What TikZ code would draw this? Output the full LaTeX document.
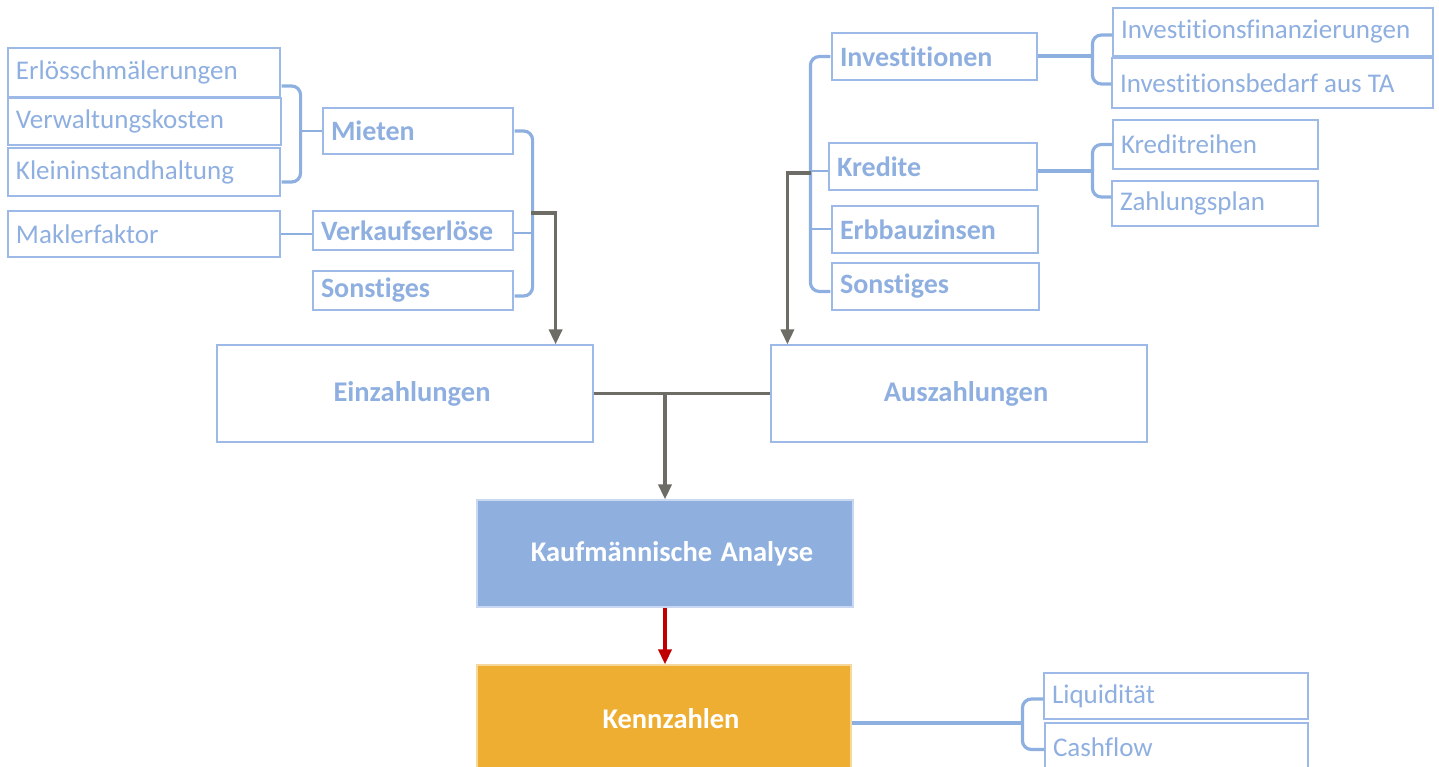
\documentclass[tikz,border=0pt]{standalone}
\usepackage{fontspec}
\setmainfont{Carlito}[Ligatures=NoCommon]
\usetikzlibrary{arrows.meta,calc}
\definecolor{txtc}{HTML}{8EAFE0}
\definecolor{boxc}{HTML}{9CB9E7}
\definecolor{brkc}{HTML}{8DB0E1}
\definecolor{grayc}{HTML}{6D6C65}
\definecolor{kafill}{HTML}{8FB0DF}
\definecolor{kaborder}{HTML}{C9D8F0}
\definecolor{kzfill}{HTML}{EDAE31}
\definecolor{kzborder}{HTML}{F6D79C}
\definecolor{redc}{HTML}{C00000}
\newcommand\bxnode[7]{%
  \pgfmathsetmacro\bxw{#4-#2-16}%
  \pgfmathsetmacro\bxh{#5-#3}%
  \node[#6, text width=\bxw pt, minimum height=\bxh pt] (#1) at ({(#2+#4)/2},{(#3+#5)/2}) {\spaceskip=0pt\xspaceskip=0pt\relax #7};}
\newcommand\offs{\hspace*{14pt}}
\begin{document}
\begin{tikzpicture}[x=1pt,y=-1pt,
  leaf/.style={draw=boxc, line width=1.2pt, text=txtc, align=left, inner xsep=8pt, inner ysep=0pt,
    font=\fontsize{27}{32}\selectfont},
  mid/.style={leaf, font=\fontsize{28}{32}\selectfont\bfseries},
  big/.style={leaf, align=center, font=\fontsize{28.5}{32}\selectfont\bfseries},
  kabox/.style={big, fill=kafill, draw=kaborder, text=white},
  kzbox/.style={big, fill=kzfill, draw=kzborder, text=white},
  brk/.style={draw=brkc, line width=3.2pt, rounded corners=9pt},
  thickln/.style={draw=brkc, line width=4pt},
  tick/.style={draw=brkc, line width=2pt},
  gline/.style={draw=grayc, line width=3.5pt},
  garr/.style={gline, -{Triangle[length=15pt,width=13pt]}},
  rarr/.style={draw=redc, line width=3.5pt, -{Triangle[length=15pt,width=13pt]}}
]
\useasboundingbox (0,0) rectangle (1439,767);
% left leaves
\bxnode{e1}{8}{48}{280}{97}{leaf}{Erlösschmälerungen}
\bxnode{vk}{8}{98}{281}{145}{leaf}{Verwaltungskosten}
\bxnode{kl}{8}{148}{280}{196}{leaf}{Kleininstandhaltung}
\bxnode{mak}{8}{211}{280}{257}{leaf}{Maklerfaktor}
% left mids
\bxnode{mie}{323}{108}{513}{154}{mid}{Mieten}
\bxnode{verk}{313}{211}{513}{250}{mid}{Verkaufserlöse}
\bxnode{so1}{313}{271}{513}{310}{mid}{Sonstiges}
% right mids
\bxnode{inv}{832}{33}{1037}{80}{mid}{Investitionen}
\bxnode{kre}{829}{143}{1037}{190}{mid}{Kredite}
\bxnode{erb}{832}{206}{1038}{253}{mid}{Erbbauzinsen}
\bxnode{so2}{832}{263}{1039}{310}{mid}{Sonstiges}
% right leaves
\bxnode{if}{1113}{8}{1433}{56}{leaf}{Investitionsfinanzierungen}
\bxnode{ib}{1112}{58}{1433}{108}{leaf}{Investitionsbedarf aus TA}
\bxnode{kr}{1113}{120}{1318}{169}{leaf}{Kreditreihen}
\bxnode{zp}{1112}{181}{1318}{226}{leaf}{Zahlungsplan}
% big boxes
\bxnode{ein}{217}{345}{593}{442}{big}{\offs Einzahlungen}
\bxnode{aus}{771}{345}{1147}{442}{big}{\offs Auszahlungen}
\bxnode{ka}{477}{500}{853}{607}{kabox}{\offs Kaufmännische Analyse}
\bxnode{kz}{477}{665}{851}{772}{kzbox}{\offs Kennzahlen}
% bottom leaves
\bxnode{liq}{1044}{673}{1308}{719}{leaf}{Liquidität}
\bxnode{cf}{1045}{723}{1308}{772}{leaf}{Cashflow}

% left bracket
\draw[brk] ([xshift=1pt,yshift=-13.5pt]e1.east) -- ++(19,0) |- ([xshift=1pt,yshift=-10pt]kl.east);
\draw[tick] (mie.west) -- ++(-23,0);
\draw[tick] (mak.east) -- (mak.east -| verk.west);
% middle-left bracket
\draw[brk] ([xshift=1pt]mie.east) -- ++(18,0) |- ([xshift=1pt,yshift=-5.5pt]so1.east);
\draw[tick] ([yshift=-2.5pt]verk.east) -- ++(18,0);
\coordinate (gl) at (531,213);
\draw[garr] (gl) -| ([xshift=-38pt]ein.north east);
% right bracket
\draw[brk] ([xshift=-1pt]inv.west) -- ++(-20,0) |- ([xshift=-1pt,yshift=-5pt]so2.west);
\draw[tick] ([yshift=-5pt]kre.west) -- ++(-18,0);
\draw[tick] (erb.west) -- ++(-21,0);
\coordinate (gr) at (811,173);
\draw[garr] (gr) -| ([xshift=17pt]aus.north west);
% investitionen
\draw[thickln] (inv.east) -- ++(56,0);
\draw[brk] ([yshift=-3pt]if.west) -- ++(-20,0) |- ([yshift=-1pt]ib.west);
% kredite
\draw[thickln] ([yshift=-4.5pt]kre.east) -- ++(56,0);
\draw[brk] (kr.west) -- ++(-20,0) |- ([yshift=6.5pt]zp.west);
% center flow
\draw[gline] (ein.east) -- (aus.west);
\draw[garr] (ein.east -| ka.north) -- (ka.north);
\draw[rarr] (ka.south) -- (ka.south |- kz.north);
% kennzahlen
\draw[thickln] ([yshift=-4.5pt]kz.east) -- ++(172,0);
\draw[brk] ([yshift=-3pt]liq.west) -- ++(-21,0) |- ([yshift=-2pt]cf.west);
\end{tikzpicture}
\end{document}
